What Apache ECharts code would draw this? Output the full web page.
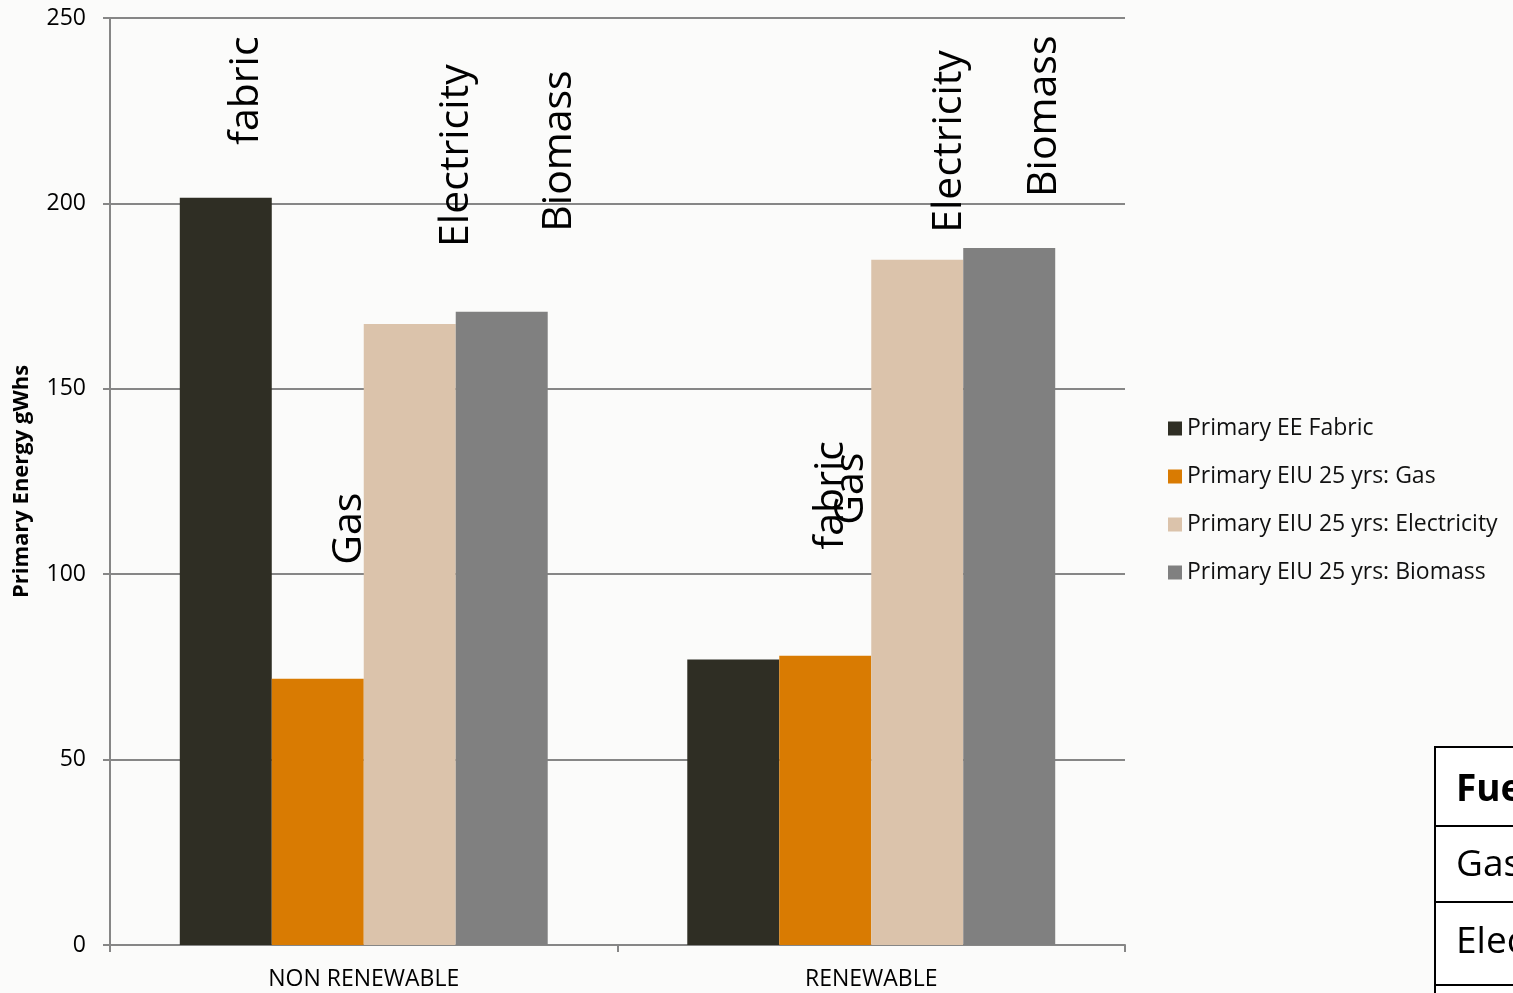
<!DOCTYPE html>
<html>
<head>
<meta charset="utf-8">
<script src="https://cdn.jsdelivr.net/npm/echarts@6/dist/echarts.min.js"></script>
<style>
  html, body { margin: 0; padding: 0; background: #fbfbfa; }
  #chart { width: 1513px; height: 993px; }
</style>
</head>
<body>
<div id="chart"></div>
<script>
// 数据
const categories = ['NON RENEWABLE', 'RENEWABLE']
const seriesNames = [
  'Primary EE Fabric',
  'Primary EIU 25 yrs: Gas',
  'Primary EIU 25 yrs: Electricity',
  'Primary EIU 25 yrs: Biomass',
]
const labelTexts = ['fabric', 'Gas', 'Electricity', 'Biomass']
const fabric = [201.5, 77]
const gas = [71.8, 78]
const electricity = [167.5, 184.8]
const biomass = [170.8, 188]
const yTicks = { min: 0, max: 250, interval: 50 }

const colors = ['#2f2e24', '#d97b02', '#dbc3ab', '#808080']
// 标签相对柱子的位置（样式）
const labelPos = [
  [[67, -53], [144, -110]],
  [[78, -114], [72, -131]],
  [[93, -77], [78, -27]],
  [[104, -80], [81, -51]],
]
const FONT = 'Open Sans'

const values = [fabric, gas, electricity, biomass]
const series = values.map((vals, i) => ({
  name: seriesNames[i],
  type: 'bar',
  barGap: '0%',
  barCategoryGap: '27.5%',
  itemStyle: { color: colors[i] },
  data: vals.map((v, j) => ({
    value: v,
    label: {
      show: true,
      position: labelPos[i][j],
      rotate: 90,
      align: 'left',
      verticalAlign: 'middle',
      formatter: labelTexts[i],
      fontFamily: FONT,
      fontSize: 41,
      color: '#000',
    },
  })),
}))

const option = {
  backgroundColor: '#fbfbfa',
  animation: false,
  grid: { left: 110, right: 388, top: 18, bottom: 48 },
  legend: {
    orient: 'vertical',
    left: 1168,
    top: 417,
    padding: 0,
    itemWidth: 14,
    itemHeight: 14,
    itemGap: 25,
    icon: 'rect',
    textStyle: { fontFamily: FONT, fontSize: 23, color: '#111' },
    data: seriesNames,
  },
  xAxis: {
    type: 'category',
    data: categories,
    axisLine: { lineStyle: { color: '#868686', width: 2 } },
    axisTick: { show: true, length: 7, lineStyle: { color: '#868686', width: 2 } },
    axisLabel: { fontFamily: FONT, fontSize: 23, color: '#000', margin: 23 },
  },
  yAxis: {
    type: 'value',
    min: yTicks.min,
    max: yTicks.max,
    interval: yTicks.interval,
    name: 'Primary Energy gWhs',
    nameLocation: 'middle',
    nameGap: 77,
    nameTextStyle: { fontFamily: FONT, fontSize: 22, fontWeight: 'bold', color: '#000' },
    axisLine: { show: true, lineStyle: { color: '#868686', width: 2 } },
    axisTick: { show: true, length: 7, lineStyle: { color: '#868686', width: 2 } },
    axisLabel: { fontFamily: FONT, fontSize: 23, color: '#000', margin: 24 },
    splitLine: { lineStyle: { color: '#868686', width: 2 } },
  },
  graphic: [
    // 右下角表格（被截断）
    { type: 'rect', shape: { x: 1435, y: 747, width: 200, height: 300 }, style: { fill: '#fff', stroke: '#000', lineWidth: 2 } },
    { type: 'line', shape: { x1: 1435, y1: 826, x2: 1513, y2: 826 }, style: { stroke: '#000', lineWidth: 2 } },
    { type: 'line', shape: { x1: 1435, y1: 902, x2: 1513, y2: 902 }, style: { stroke: '#000', lineWidth: 2 } },
    { type: 'line', shape: { x1: 1435, y1: 985, x2: 1513, y2: 985 }, style: { stroke: '#000', lineWidth: 2 } },
    { type: 'text', x: 1456, y: 790, style: { text: 'Fuel', fontFamily: FONT, fontSize: 37, fontWeight: 'bold', fill: '#000', verticalAlign: 'middle' } },
    { type: 'text', x: 1456, y: 865, style: { text: 'Gas', fontFamily: FONT, fontSize: 37, fill: '#000', verticalAlign: 'middle' } },
    { type: 'text', x: 1456, y: 942, style: { text: 'Electricity', fontFamily: FONT, fontSize: 37, fill: '#000', verticalAlign: 'middle' } },
  ],
  series: series,
}
echarts.init(document.querySelector('#chart')).setOption(option)
</script>
</body>
</html>
